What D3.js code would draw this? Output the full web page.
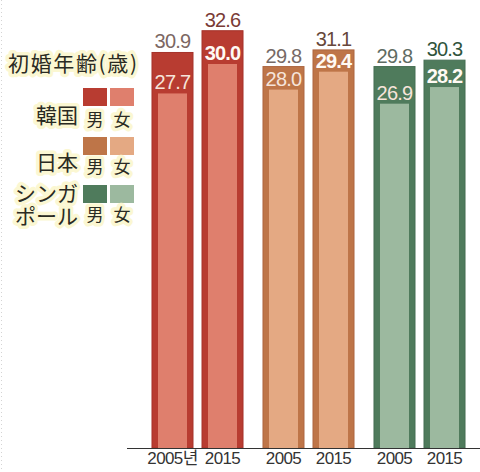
<!DOCTYPE html>
<html>
<head>
<meta charset="utf-8">
<script src="https://cdn.jsdelivr.net/npm/d3@7"></script>
<style>
  body { margin: 0; background: #fff; }
  svg { display: block; }
  .num { font-family: "Liberation Sans", Arial, sans-serif; }
  .cjk { font-family: "Noto Sans CJK JP", sans-serif; fill: #2a2a22; }
  .halo { stroke: #fbf7d2; stroke-width: 7px; stroke-linejoin: round; paint-order: stroke; }
</style>
</head>
<body>
<svg id="chart" width="480" height="472"></svg>
<script>
// 初婚年齢(歳) 韓国・日本・シンガポール
const countries = ["韓国", "日本", "シンガポール"]
const years = ["2005", "2015"]
const yearLabels = [["2005년", "2015"], ["2005", "2015"], ["2005", "2015"]]
const maleAge = [[30.9, 32.6], [29.8, 31.1], [29.8, 30.3]]
const femaleAge = [[27.7, 30.0], [28.0, 29.4], [26.9, 28.2]]

const maleColor = { "韓国": "#b83c31", "日本": "#be7548", "シンガポール": "#4f7b5c" }
const femaleColor = { "韓国": "#df7f6d", "日本": "#e4a983", "シンガポール": "#9cb99f" }
const maleEdge = { "韓国": "#a5322a", "日本": "#ad6640", "シンガポール": "#456e52" }
const labelColor = {
  "韓国": ["#7c6763", "#7a3b36"],
  "日本": ["#766a66", "#66473a"],
  "シンガポール": ["#5f6c63", "#30543c"]
}

const svg = d3.select('#chart')
const base = 448

const y = d3.scaleLinear().domain([0, 35]).range([base, 0])

const x0 = d3.scaleBand()
  .domain(countries)
  .range([142, 475])
  .paddingInner(0.18)
  .paddingOuter(0.09)

const x1 = d3.scaleBand()
  .domain(years)
  .range([0, x0.bandwidth()])
  .paddingInner(0.18)

const fmt = d3.format('.1f')
const inset = 6

// flatten into one row per bar
const rows = []
countries.forEach((c, i) => {
  years.forEach((yr, j) => {
    rows.push({ country: c, year: yr, male: maleAge[i][j], female: femaleAge[i][j], label: yearLabels[i][j], j })
  })
})

// faint dotted border on the left
svg.append('line')
  .attr('x1', 1.5).attr('x2', 1.5).attr('y1', 0).attr('y2', 472)
  .attr('stroke', '#d4d4d4').attr('stroke-dasharray', '1,3')

const bars = svg.append('g').selectAll('g')
  .data(rows)
  .join('g')
  .attr('transform', d => `translate(${x0(d.country) + x1(d.year)},0)`)

bars.append('rect')
  .attr('x', 0)
  .attr('y', d => y(d.male))
  .attr('width', x1.bandwidth())
  .attr('height', d => base - y(d.male))
  .attr('fill', d => maleColor[d.country])
  .attr('stroke', d => maleEdge[d.country])
  .attr('stroke-width', 1)

bars.append('rect')
  .attr('x', inset)
  .attr('y', d => y(d.female))
  .attr('width', x1.bandwidth() - inset * 2)
  .attr('height', d => base - y(d.female))
  .attr('fill', d => femaleColor[d.country])

bars.append('text')
  .attr('class', 'num')
  .attr('x', x1.bandwidth() / 2)
  .attr('y', d => y(d.male) - 4)
  .attr('text-anchor', 'middle')
  .attr('font-size', 20)
  .attr('letter-spacing', -0.8)
  .attr('fill', d => labelColor[d.country][d.j])
  .text(d => fmt(d.male))

bars.append('text')
  .attr('class', 'num')
  .attr('x', x1.bandwidth() / 2)
  .attr('y', d => y(d.female) - 4)
  .attr('text-anchor', 'middle')
  .attr('font-size', 20)
  .attr('letter-spacing', -0.8)
  .attr('fill', d => d.j ? '#fffaf4' : '#f6e4da')
  .attr('font-weight', d => d.j ? 'bold' : 'normal')
  .text(d => fmt(d.female))

// baseline
svg.append('line')
  .attr('x1', 127).attr('x2', 480)
  .attr('y1', base + 0.5).attr('y2', base + 0.5)
  .attr('stroke', '#333').attr('stroke-width', 1.2)

bars.append('text')
  .attr('x', x1.bandwidth() / 2)
  .attr('y', base + 16)
  .attr('text-anchor', 'middle')
  .attr('font-family', '"Liberation Sans", "Noto Sans CJK KR", sans-serif')
  .attr('font-size', 17)
  .attr('letter-spacing', -0.6)
  .attr('fill', '#333')
  .text(d => d.label)

// legend
const legend = svg.append('g')

legend.append('text')
  .attr('class', 'cjk halo')
  .attr('x', 8).attr('y', 71)
  .attr('font-size', 21)
  .attr('textLength', 129)
  .attr('lengthAdjust', 'spacing')
  .text('初婚年齢(歳)')

const legendRows = [
  { country: "韓国", top: 88, names: ["韓国"], nameY: 123, sexY: 126 },
  { country: "日本", top: 137, names: ["日本"], nameY: 170, sexY: 173 },
  { country: "シンガポール", top: 185, names: ["シンガ", "ポール"], nameY: 201, sexY: 221 }
]

legendRows.forEach(r => {
  const g = legend.append('g')
  g.append('rect').attr('x', 83).attr('y', r.top).attr('width', 24).attr('height', 18)
    .attr('fill', maleColor[r.country])
  g.append('rect').attr('x', 110).attr('y', r.top).attr('width', 24).attr('height', 18)
    .attr('fill', femaleColor[r.country])
  // one text element, wrapped onto lines with tspans
  g.append('text').attr('class', 'cjk halo')
    .attr('y', r.nameY)
    .attr('text-anchor', 'end')
    .attr('font-size', 21)
    .selectAll('tspan')
    .data(r.names)
    .join('tspan')
    .attr('x', 78)
    .attr('dy', (d, k) => k ? 23 : 0)
    .text(d => d)
  g.append('text').attr('class', 'cjk halo')
    .attr('x', 95).attr('y', r.sexY)
    .attr('text-anchor', 'middle').attr('font-size', 17)
    .text('男')
  g.append('text').attr('class', 'cjk halo')
    .attr('x', 122).attr('y', r.sexY)
    .attr('text-anchor', 'middle').attr('font-size', 17)
    .text('女')
})
</script>
</body>
</html>
